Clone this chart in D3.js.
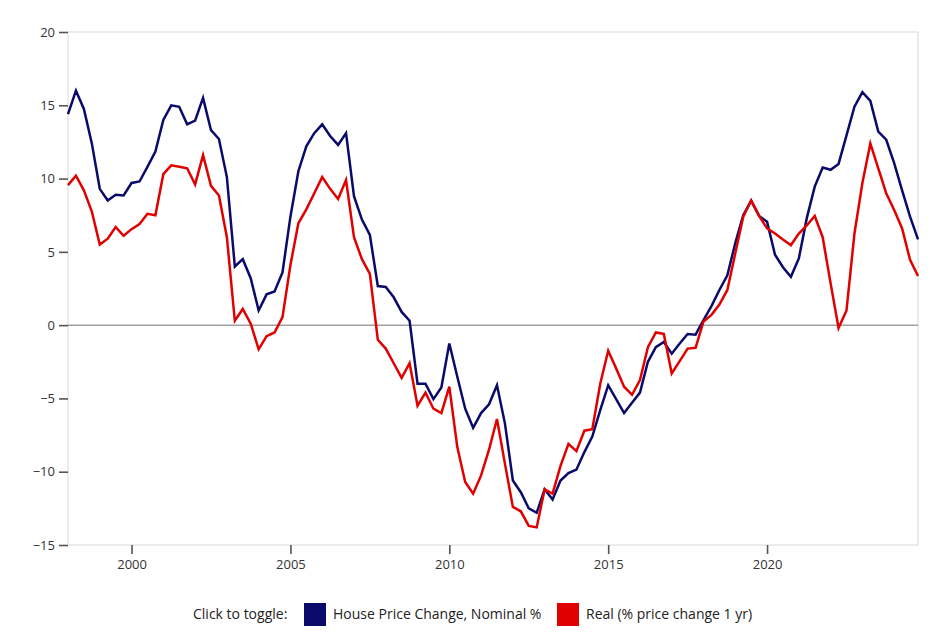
<!DOCTYPE html>
<html>
<head>
<meta charset="utf-8">
<script src="https://cdn.jsdelivr.net/npm/d3@7"></script>
<style>
  html, body { margin: 0; padding: 0; background: #fff; }
  body { font-family: "Open Sans", "Noto Sans", sans-serif; }
</style>
</head>
<body>
<svg id="chart" width="945" height="644"></svg>
<script>
// Quarterly data, 1998 Q1 .. 2024 Q4
const startYear = 1998;
const nominal = [
  14.4, 16.0, 14.75, 12.4, 9.3, 8.5, 8.9, 8.85, 9.7, 9.8,
  10.8, 11.85, 14.0, 15.0, 14.9, 13.7, 13.95, 15.5, 13.3, 12.7,
  10.1, 4.0, 4.5, 3.2, 1.0, 2.1, 2.3, 3.6, 7.4, 10.5,
  12.2, 13.1, 13.7, 12.9, 12.3, 13.1, 8.8, 7.2, 6.15, 2.67,
  2.6, 1.9, 0.9, 0.3, -4.0, -4.0, -5.05, -4.25, -1.25, -3.5,
  -5.7, -7.0, -6.0, -5.4, -4.1, -6.7, -10.6, -11.4, -12.5, -12.8,
  -11.2, -11.9, -10.6, -10.1, -9.86, -8.66, -7.6, -5.8, -4.1, -5.05,
  -6.0, -5.3, -4.6, -2.5, -1.5, -1.15, -1.95, -1.25, -0.6, -0.65,
  0.35, 1.3, 2.4, 3.4, 5.6, 7.5, 8.5, 7.45, 7.05, 4.8,
  3.95, 3.3, 4.55, 7.3, 9.45, 10.75, 10.6, 11.0, 12.95, 14.9,
  15.9, 15.3, 13.2, 12.65, 11.05, 9.2, 7.4, 5.85
];
const real = [
  9.55, 10.2, 9.2, 7.75, 5.5, 5.9, 6.7, 6.1, 6.55, 6.9,
  7.6, 7.5, 10.3, 10.9, 10.8, 10.7, 9.6, 11.6, 9.5, 8.85,
  6.0, 0.3, 1.1, 0.1, -1.65, -0.75, -0.5, 0.55, 4.1, 6.95,
  7.9, 9.0, 10.1, 9.3, 8.6, 9.9, 6.0, 4.5, 3.5, -1.0,
  -1.6, -2.6, -3.6, -2.6, -5.5, -4.6, -5.7, -6.0, -4.2, -8.3,
  -10.7, -11.5, -10.25, -8.5, -6.4, -9.45, -12.4, -12.7, -13.7, -13.8,
  -11.2, -11.5, -9.6, -8.1, -8.6, -7.2, -7.1, -4.0, -1.75, -2.95,
  -4.2, -4.75, -3.75, -1.5, -0.5, -0.6, -3.3, -2.45, -1.6, -1.55,
  0.25, 0.7, 1.4, 2.4, 4.9, 7.4, 8.5, 7.45, 6.6, 6.25,
  5.85, 5.45, 6.25, 6.8, 7.45, 6.0, 2.85, -0.2, 1.0, 6.25,
  9.7, 12.4, 10.7, 9.0, 7.85, 6.6, 4.45, 3.35
];
const yTicks = [-15, -10, -5, 0, 5, 10, 15, 20];
const xTicks = [2000, 2005, 2010, 2015, 2020];
const seriesNames = ["House Price Change, Nominal %", "Real (% price change 1 yr)"];
const seriesColors = ["#0a0a6b", "#e00000"];

const svg = d3.select("#chart");
const margin = {left: 68, top: 32, right: 27, bottom: 99};
const W = 945, H = 644;
const iw = W - margin.left - margin.right;
const ih = H - margin.top - margin.bottom;

const x = d3.scaleLinear().domain([startYear, startYear + (nominal.length - 1) / 4]).range([margin.left, margin.left + iw]);
const y = d3.scaleLinear().domain([-15, 20]).range([margin.top + ih, margin.top]);

// plot frame
svg.append("rect")
  .attr("x", margin.left).attr("y", margin.top)
  .attr("width", iw).attr("height", ih)
  .attr("fill", "none").attr("stroke", "#e6e6e6").attr("stroke-width", 1.5);

// zero line
svg.append("line")
  .attr("x1", margin.left).attr("x2", margin.left + iw)
  .attr("y1", y(0)).attr("y2", y(0))
  .attr("stroke", "#a0a0a0").attr("stroke-width", 1.5);

// y axis
const yAxis = svg.append("g")
  .attr("transform", `translate(${margin.left},0)`)
  .call(d3.axisLeft(y).tickValues(yTicks).tickSize(9).tickPadding(4));
yAxis.select(".domain").remove();
yAxis.selectAll(".tick line").attr("stroke", "#555").attr("stroke-width", 1.6);
yAxis.selectAll(".tick text").attr("fill", "#333").style("font-size", "13px").style("font-family", "Open Sans, Noto Sans, sans-serif");

// x axis
const xAxis = svg.append("g")
  .attr("transform", `translate(0,${margin.top + ih})`)
  .call(d3.axisBottom(x).tickValues(xTicks).tickFormat(d3.format("d")).tickSize(9).tickPadding(6));
xAxis.select(".domain").remove();
xAxis.selectAll(".tick line").attr("stroke", "#555").attr("stroke-width", 1.6);
xAxis.selectAll(".tick text").attr("fill", "#333").style("font-size", "13px").style("font-family", "Open Sans, Noto Sans, sans-serif");

// lines
const line = d3.line()
  .x((d, i) => x(startYear + i / 4))
  .y(d => y(d));
[nominal, real].forEach((s, k) => {
  svg.append("path")
    .datum(s)
    .attr("d", line)
    .attr("fill", "none")
    .attr("stroke", seriesColors[k])
    .attr("stroke-width", 2.5)
    .attr("stroke-linejoin", "miter");
});

// legend
const lg = svg.append("g")
  .style("font-family", "Open Sans, Noto Sans, sans-serif").style("font-size", "14px");
lg.append("text").attr("x", 193).attr("y", 619).attr("fill", "#222").text("Click to toggle:");
const legendX = [304, 557];
seriesNames.forEach((n, k) => {
  lg.append("rect").attr("x", legendX[k]).attr("y", 603).attr("width", 22).attr("height", 23)
    .attr("fill", seriesColors[k]);
  lg.append("text").attr("x", legendX[k] + 29).attr("y", 619).attr("fill", "#222").text(n);
});
</script>
</body>
</html>
